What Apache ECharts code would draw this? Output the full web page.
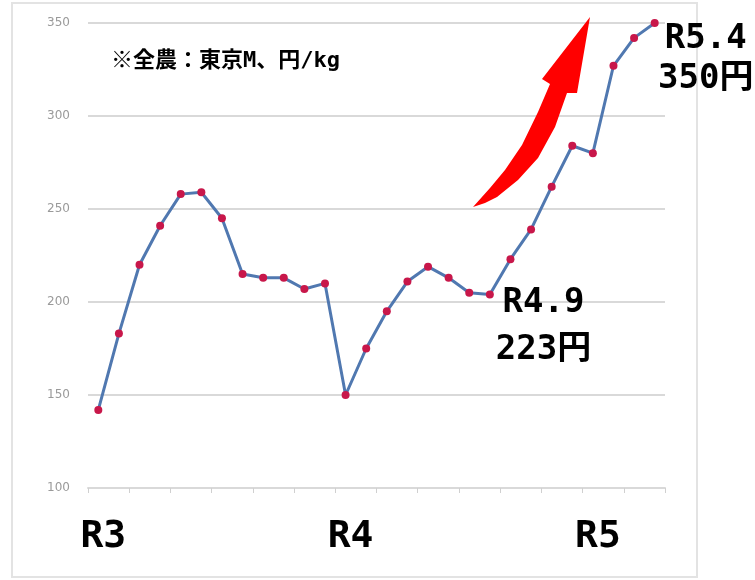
<!DOCTYPE html>
<html>
<head>
<meta charset="utf-8">
<script src="https://cdn.jsdelivr.net/npm/echarts@6/dist/echarts.min.js"></script>
<style>
  html, body { margin: 0; padding: 0; background: #fff; }
  #chart { width: 755px; height: 580px; }
</style>
</head>
<body>
<div id="chart"></div>
<script>
// 月ごとのカテゴリ (R3.1 〜 R5.4)
const months = [
  'R3.1', 'R3.2', 'R3.3', 'R3.4', 'R3.5', 'R3.6', 'R3.7', 'R3.8', 'R3.9', 'R3.10', 'R3.11', 'R3.12',
  'R4.1', 'R4.2', 'R4.3', 'R4.4', 'R4.5', 'R4.6', 'R4.7', 'R4.8', 'R4.9', 'R4.10', 'R4.11', 'R4.12',
  'R5.1', 'R5.2', 'R5.3', 'R5.4'
];
// 価格 円/kg
const prices = [
  142, 183, 220, 241, 258, 259, 245, 215, 213, 213, 207, 210,
  150, 175, 195, 211, 219, 213, 205, 204, 223, 239, 262, 284,
  280, 327, 342, 350
];
const yearLabels = { 'R3.1': 'R3', 'R4.1': 'R4', 'R5.1': 'R5' };
const yMin = 100;
const yMax = 350;
const yStep = 50;
const noteTitle = '※全農：東京M、円/kg';
const noteIndex = [20, 27];
const noteText = ['R4.9\n223円', 'R5.4\n350円'];

const monoFont = "'DejaVu Sans Mono', 'Noto Sans CJK JP'";

let chart = echarts.init(document.getElementById('chart'));

// 注記ラベルの位置
const noteStyle = [
  { offset: [33, 67], lineHeight: 47 },
  { offset: [51, 36], lineHeight: 40 }
];

let seriesData = prices.map(function (v, i) {
  let k = noteIndex.indexOf(i);
  if (k < 0) return v;
  return {
    value: v,
    label: {
      show: true,
      position: 'inside',
      offset: noteStyle[k].offset,
      formatter: noteText[k],
      fontFamily: monoFont,
      fontWeight: 'bold',
      fontSize: 34,
      lineHeight: noteStyle[k].lineHeight,
      color: '#000',
      align: 'center',
      verticalAlign: 'middle'
    }
  };
});

// 赤い矢印（装飾）
const arrowOutline = [
  [473, 207], [490, 188], [505, 170], [522, 145], [538, 112], [550, 84],
  [542, 79], [590, 17], [577, 93], [567, 93],
  [555, 127], [538, 158], [518, 180], [497, 197], [485, 203]
];

chart.setOption({
  backgroundColor: '#fff',
  animation: false,
  title: {
    text: noteTitle,
    left: 106,
    top: 45,
    textStyle: {
      fontFamily: monoFont,
      fontWeight: 'bold',
      fontSize: 22,
      color: '#000'
    }
  },
  grid: { left: 88, right: 90, top: 23, bottom: 92 },
  xAxis: {
    type: 'category',
    data: months,
    boundaryGap: true,
    axisLine: { lineStyle: { color: '#d9d9d9', width: 2 } },
    axisTick: { show: true, interval: 1, length: 5, lineStyle: { color: '#d0d0d0' } },
    axisLabel: {
      interval: function (i) { return i % 12 === 0; },
      formatter: function (v) { return yearLabels[v] || ''; },
      margin: 30,
      padding: [0, 0, 0, 10],
      fontFamily: monoFont,
      fontWeight: 'bold',
      fontSize: 38,
      color: '#000'
    }
  },
  yAxis: {
    type: 'value',
    min: yMin,
    max: yMax,
    interval: yStep,
    axisLine: { show: false },
    axisTick: { show: false },
    splitLine: { lineStyle: { color: '#d9d9d9', width: 2 } },
    axisLabel: {
      margin: 18,
      fontFamily: "'DejaVu Sans'",
      fontSize: 12,
      color: '#9a9a9a'
    }
  },
  series: [{
    type: 'line',
    data: seriesData,
    symbol: 'circle',
    symbolSize: 8,
    lineStyle: { color: '#5078b0', width: 3 },
    itemStyle: { color: '#c8174a' },
    z: 3
  }],
  graphic: [
    {
      type: 'rect',
      z: -1,
      shape: { x: 12, y: 3, width: 685, height: 574 },
      style: { fill: 'none', stroke: '#e3e3e3', lineWidth: 2 }
    },
    {
      type: 'polygon',
      z: 10,
      shape: { points: arrowOutline },
      style: { fill: '#ff0000' }
    }
  ]
});
</script>
</body>
</html>
